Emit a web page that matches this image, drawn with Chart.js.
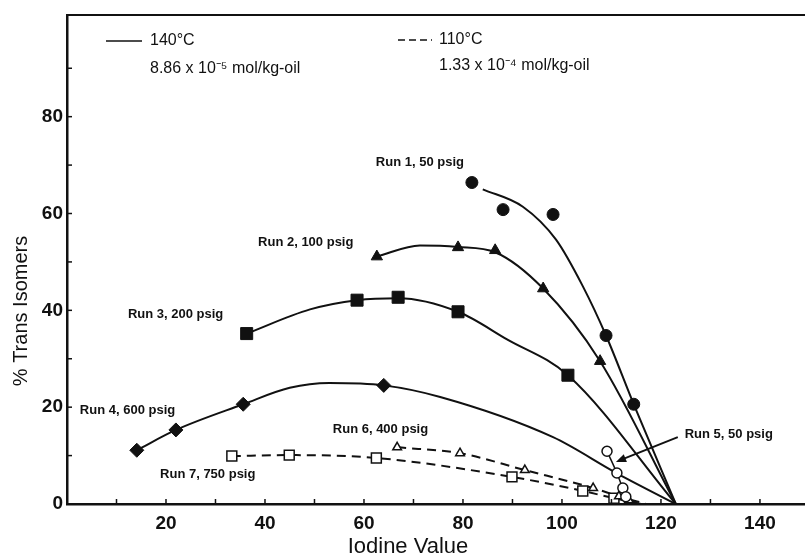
<!DOCTYPE html>
<html lang="en">
  <head>
    <meta charset="UTF-8" />
    <title>Trans isomers vs iodine value</title>
    <script src="https://cdn.jsdelivr.net/npm/chart.js"></script>
    <style>
      body {
        margin: 0;
        background: #fff;
      }
      .wrap {
        width: 805px;
        height: 560px;
      }
    </style>
  </head>
  <body>
    <div class="wrap"><canvas id="chart"></canvas></div>
    <script>
      // measured points, [iodine value, % trans]
      const run1 = [[81.8, 66.4], [88.1, 60.8], [98.2, 59.8], [108.9, 34.8], [114.5, 20.6]];
      const run2 = [[62.6, 51.1], [79, 53], [86.5, 52.4], [96.2, 44.5], [107.7, 29.5]];
      const run3 = [[36.3, 35.2], [58.6, 42.1], [66.9, 42.7], [79, 39.7], [101.2, 26.6]];
      const run4 = [[14.1, 11.1], [22, 15.3], [35.6, 20.6], [64, 24.5]];
      const run5 = [[109.1, 10.9], [111.1, 6.4], [112.3, 3.3], [112.9, 1.5]];
      const run6 = [[66.7, 11.7], [79.4, 10.5], [92.5, 7.0], [106.3, 3.3], [111.5, 1.6], [113.5, 0.8]];
      const run7 = [[33.3, 9.9], [44.9, 10.1], [62.5, 9.5], [89.9, 5.6], [104.2, 2.7], [110.5, 1.2]];

      // fitted curves
      const fit1 = [[84, 65], [92.1, 61.4], [98.8, 54.6], [104.2, 45], [108.9, 34.8], [114.5, 20.6], [123, 0]];
      const fit2 = [[62.6, 51.1], [71.3, 53.4], [79, 53.1], [86.5, 52], [96.2, 44.5], [107.7, 29.5], [123, 0]];
      const fit3 = [[36.3, 35.2], [49.1, 40.2], [58.6, 42.1], [66.9, 42.5], [79, 39.7], [88.9, 34], [101.2, 26.6], [123, 0]];
      const fit4 = [[14.1, 11.1], [22, 15.3], [35.6, 20.6], [45, 24], [53, 25], [64, 24.5], [75.4, 22.1], [98.2, 13.8], [111, 6.4], [123, 0]];
      const fit5 = [[109.1, 10.9], [111.1, 6.4], [112.3, 3.3], [113.6, 1.2], [115.5, 0]];
      const fit6 = [[66.7, 11.7], [79.4, 10.5], [92.5, 7.0], [106.3, 3.3], [111.5, 1.6], [117, 0]];
      const fit7 = [[33.3, 9.9], [44.9, 10.1], [62.5, 9.5], [89.9, 5.6], [104.2, 2.7], [110.5, 1.2], [116, 0]];

      // labels: text, x, y (data coords of left edge / middle)
      const runLabels = [
        ["Run 1, 50 psig", 62.4, 70.5],
        ["Run 2, 100 psig", 38.6, 54.0],
        ["Run 3, 200 psig", 12.3, 39.2],
        ["Run 4, 600 psig", 2.6, 19.4],
        ["Run 6, 400 psig", 53.7, 15.5],
        ["Run 7, 750 psig", 18.8, 6.2],
        ["Run 5, 50 psig", 124.8, 14.4],
      ];
      const arrow5 = [[123.4, 13.8], [110.9, 8.7]];

      const xTickLabels = [20, 40, 60, 80, 100, 120, 140];
      const yTickLabels = [0, 20, 40, 60, 80];

      const ink = "#111";
      const pts = (a) => a.map((p) => ({ x: p[0], y: p[1] }));

      function marks(data, style, radius, filled) {
        return {
          data: pts(data),
          showLine: false,
          pointStyle: style,
          pointRadius: radius,
          pointBackgroundColor: filled ? ink : "#fff",
          pointBorderColor: ink,
          pointBorderWidth: filled ? 1 : 1.5,
          order: 0,
        };
      }
      function curve(data, dashed, width) {
        return {
          data: pts(data),
          showLine: true,
          pointRadius: 0,
          borderColor: ink,
          borderWidth: width || 2,
          borderDash: dashed ? [9, 6] : [],
          cubicInterpolationMode: "monotone",
          order: 1,
        };
      }

      const decor = {
        id: "decor",
        afterDraw(chart) {
          const c = chart.ctx;
          const xs = chart.scales.x;
          const ys = chart.scales.y;
          const a = chart.chartArea;
          c.save();
          c.strokeStyle = ink;
          c.fillStyle = ink;

          // top frame
          c.lineWidth = 2;
          c.beginPath();
          c.moveTo(a.left, a.top);
          c.lineTo(a.right, a.top);
          c.stroke();

          // inward ticks
          c.lineWidth = 1.5;
          for (let v = 10; v <= 140; v += 10) {
            const px = xs.getPixelForValue(v);
            c.beginPath();
            c.moveTo(px, a.bottom);
            c.lineTo(px, a.bottom - 5);
            c.stroke();
          }
          for (let v = 10; v <= 90; v += 10) {
            const py = ys.getPixelForValue(v);
            c.beginPath();
            c.moveTo(a.left, py);
            c.lineTo(a.left + 5, py);
            c.stroke();
          }

          // run labels
          c.font = "bold 13px 'Liberation Sans', Arial, sans-serif";
          c.textAlign = "left";
          c.textBaseline = "middle";
          runLabels.forEach((l) => {
            c.fillText(l[0], xs.getPixelForValue(l[1]), ys.getPixelForValue(l[2]));
          });

          // arrow for run 5
          const x0 = xs.getPixelForValue(arrow5[0][0]);
          const y0 = ys.getPixelForValue(arrow5[0][1]);
          const x1 = xs.getPixelForValue(arrow5[1][0]);
          const y1 = ys.getPixelForValue(arrow5[1][1]);
          const ang = Math.atan2(y1 - y0, x1 - x0);
          c.lineWidth = 2;
          c.beginPath();
          c.moveTo(x0, y0);
          c.lineTo(x1 - 8 * Math.cos(ang), y1 - 8 * Math.sin(ang));
          c.stroke();
          c.beginPath();
          c.moveTo(x1, y1);
          c.lineTo(x1 - 11 * Math.cos(ang - 0.4), y1 - 11 * Math.sin(ang - 0.4));
          c.lineTo(x1 - 11 * Math.cos(ang + 0.4), y1 - 11 * Math.sin(ang + 0.4));
          c.closePath();
          c.fill();

          // legend
          c.lineWidth = 1.5;
          c.beginPath();
          c.moveTo(106, 41);
          c.lineTo(142, 41);
          c.stroke();
          c.setLineDash([7, 4]);
          c.beginPath();
          c.moveTo(398, 40);
          c.lineTo(432, 40);
          c.stroke();
          c.setLineDash([]);
          c.font = "16px 'Liberation Sans', Arial, sans-serif";
          c.fillText("140°C", 150, 41);
          c.fillText("8.86 x 10⁻⁵ mol/kg-oil", 150, 69);
          c.fillText("110°C", 439, 40);
          c.fillText("1.33 x 10⁻⁴ mol/kg-oil", 439, 66);

          // axis titles
          c.font = "22px 'Liberation Sans', Arial, sans-serif";
          c.textAlign = "center";
          c.fillText("Iodine Value", 408, 547);
          c.translate(21, 311);
          c.rotate(-Math.PI / 2);
          c.font = "20px 'Liberation Sans', Arial, sans-serif";
          c.fillText("% Trans Isomers", 0, 0);
          c.restore();
        },
      };

      new Chart(document.getElementById("chart"), {
        type: "scatter",
        data: {
          datasets: [
            curve(fit1), curve(fit2), curve(fit3), curve(fit4), curve(fit5, false, 1.5),
            curve(fit6, true), curve(fit7, true),
            marks(run1, "circle", 6, true),
            marks(run2, "triangle", 6.5, true),
            marks(run3, "rect", 8.5, true),
            marks(run4, "rectRot", 7, true),
            marks(run5, "circle", 5, false),
            marks(run6, "triangle", 5, false),
            marks(run7, "rect", 7, false),
          ],
        },
        options: {
          responsive: true,
          maintainAspectRatio: false,
          animation: false,
          layout: { autoPadding: false, padding: { top: 15, left: 0, right: 0, bottom: 0 } },
          plugins: { legend: { display: false }, tooltip: { enabled: false } },
          scales: {
            x: {
              type: "linear",
              min: 0,
              max: 149.1,
              afterFit: (s) => {
                s.height = 56;
                s.paddingLeft = 0;
                s.paddingRight = 0;
              },
              grid: { display: false, drawTicks: false },
              border: { display: true, color: ink, width: 2.5 },
              ticks: {
                stepSize: 10,
                includeBounds: false,
                autoSkip: false,
                maxRotation: 0,
                padding: 8,
                color: ink,
                font: { family: "'Liberation Sans', Arial, sans-serif", size: 19, weight: "bold" },
                callback: (v) => (xTickLabels.includes(v) ? v : ""),
              },
            },
            y: {
              min: 0,
              max: 101,
              afterFit: (s) => {
                s.width = 67;
                s.paddingTop = 0;
                s.paddingBottom = 0;
              },
              grid: { display: false, drawTicks: false },
              border: { display: true, color: ink, width: 2.5 },
              ticks: {
                stepSize: 10,
                includeBounds: false,
                autoSkip: false,
                padding: 4,
                color: ink,
                font: { family: "'Liberation Sans', Arial, sans-serif", size: 19, weight: "bold" },
                callback: (v) => (yTickLabels.includes(v) ? v : ""),
              },
            },
          },
        },
        plugins: [decor],
      });
    </script>
  </body>
</html>
